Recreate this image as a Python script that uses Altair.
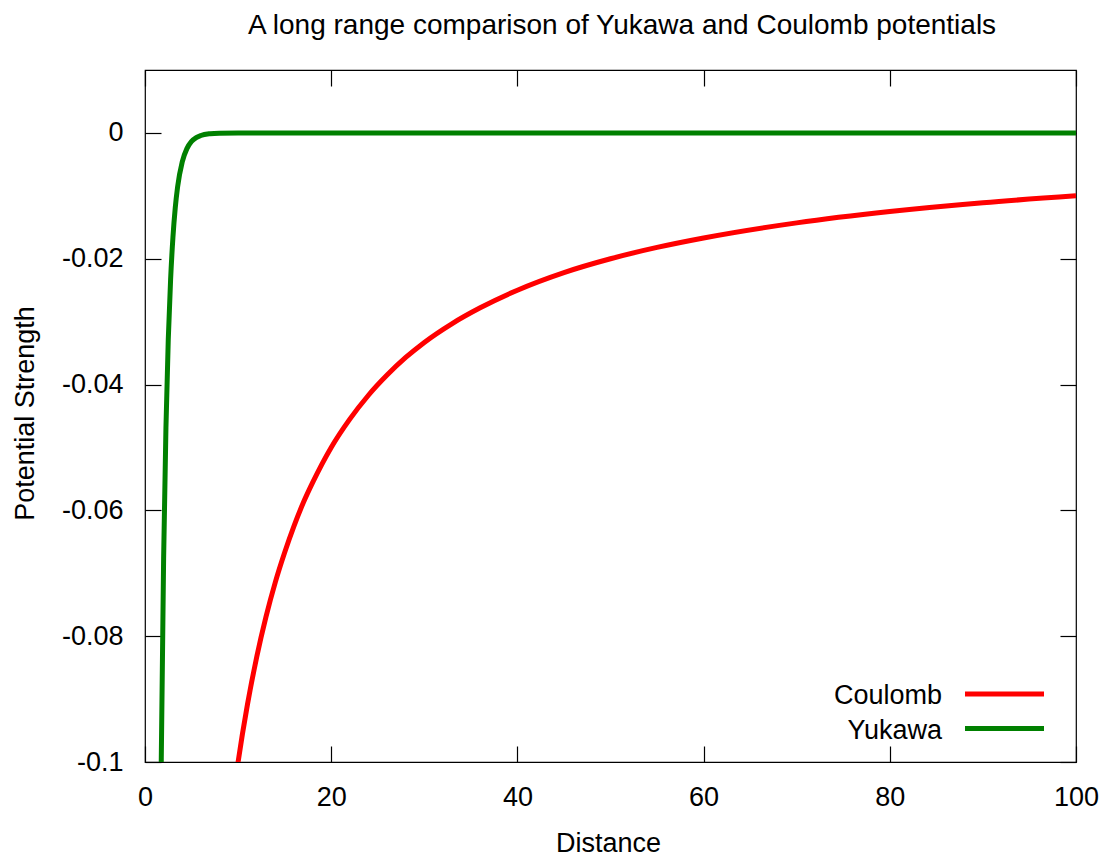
import altair as alt
import pandas as pd

# ---- data ----
coulomb_x = [9.5, 10, 11, 12, 13, 14, 15, 16, 17, 18, 20, 22, 24, 26, 28, 30,
             33, 36, 40, 45, 50, 55, 60, 70, 80, 90, 100]
coulomb_y = [-0.1053, -0.1, -0.0909, -0.0833, -0.0769, -0.0714, -0.0667, -0.0625,
             -0.0588, -0.0556, -0.05, -0.0455, -0.0417, -0.0385, -0.0357, -0.0333,
             -0.0303, -0.0278, -0.025, -0.0222, -0.02, -0.0182, -0.0167, -0.0143,
             -0.0125, -0.0111, -0.01]

yukawa_x = [1.5, 1.75, 2.0, 2.25, 2.5, 2.75, 3.0, 3.25, 3.5, 4.0, 4.5, 5.0, 5.5,
            6.0, 7.0, 8.0, 10, 15, 20, 40, 60, 80, 100]
yukawa_y = [-0.1488, -0.0993, -0.0677, -0.0468, -0.0328, -0.0233, -0.0166, -0.0119,
            -0.0086, -0.0046, -0.0025, -0.00135, -0.00074, -0.00041, -0.00013,
            -0.00004, -0.000005, 0, 0, 0, 0, 0, 0]

series_names = ["Coulomb", "Yukawa"]
series_colors = ["#ff0000", "#008000"]
x_ticks = [0, 20, 40, 60, 80, 100]
y_ticks = [0, -0.02, -0.04, -0.06, -0.08, -0.1]
title_text = "A long range comparison of Yukawa and Coulomb potentials"
x_title = "Distance"
y_title = "Potential Strength"

FONT = "Liberation Sans"
FS = 27
TITLE_FS = 28
W, H = 931, 692
LW = 5

df = pd.concat([
    pd.DataFrame({"dist": coulomb_x, "pot": coulomb_y, "series": series_names[0]}),
    pd.DataFrame({"dist": yukawa_x, "pot": yukawa_y, "series": series_names[1]}),
], ignore_index=True)

xs = alt.Scale(domain=[0, 100], nice=False, zero=False)
ys = alt.Scale(domain=[-0.1, 0.01], nice=False, zero=False)
cs = alt.Scale(domain=series_names, range=series_colors)

common_axis = dict(grid=False, domain=False, tickSize=16, offset=-16,
                   tickColor="black", tickWidth=1.2, labelFlush=False,
                   labelOverlap=False,
                   labelFont=FONT, labelFontSize=FS, labelColor="black",
                   titleFont=FONT, titleFontSize=FS, titleColor="black",
                   titleFontWeight="normal")

bottom_axis = alt.Axis(orient="bottom", values=x_ticks, labelPadding=22,
                       title=x_title, titleBaseline="alphabetic",
                       titleX=463, titleY=105, **common_axis)
left_axis = alt.Axis(orient="left", values=y_ticks, labelPadding=22,
                     labelExpr="toString(datum.value)",
                     title=y_title, titleAngle=270, titleBaseline="alphabetic",
                     titleX=-128, titleY=343, **common_axis)
top_axis = alt.Axis(orient="top", values=x_ticks, labels=False, title="",
                    **common_axis)
right_axis = alt.Axis(orient="right", values=y_ticks, labels=False, title="",
                      **common_axis)

lines = alt.Chart(df).mark_line(clip=True, strokeWidth=LW, interpolate="monotone").encode(
    x=alt.X("dist:Q", scale=xs, axis=bottom_axis),
    y=alt.Y("pot:Q", scale=ys, axis=left_axis),
    color=alt.Color("series:N", scale=cs, legend=None),
)

frame = alt.Chart(df).mark_line(clip=True, opacity=0).encode(
    x=alt.X("dist:Q", scale=xs, axis=top_axis),
    y=alt.Y("pot:Q", scale=ys, axis=right_axis),
    detail="series:N",
)

title_layer = alt.Chart(pd.DataFrame({"t": [title_text]})).mark_text(
    align="center", baseline="alphabetic", font=FONT, fontSize=TITLE_FS, color="black"
).encode(text="t:N", x=alt.value(477), y=alt.value(-36))

legend_layers = []
for i, (name, col) in enumerate(zip(series_names, series_colors)):
    ldf = pd.DataFrame({"series": [name]})
    legend_layers.append(
        alt.Chart(ldf).mark_text(align="right", baseline="alphabetic", font=FONT,
                                 fontSize=FS, color="black").encode(
            text="series:N", x=alt.value(797), y=alt.value(634 + 34.5 * i))
    )
    legend_layers.append(
        alt.Chart(ldf).mark_rule(color=col, strokeWidth=LW).encode(
            x=alt.value(820), x2=alt.value(899), y=alt.value(624 + 34.5 * i))
    )

chart = alt.layer(lines, frame, title_layer, *legend_layers).resolve_axis(
    x="independent", y="independent"
).properties(
    width=W, height=H,
    padding={"left": 137, "top": 62, "right": 23, "bottom": 94},
    autosize=alt.AutoSizeParams(type="none"),
).configure_view(stroke="black", strokeWidth=1.2)

chart.save("out.html", embed_options={"renderer": "svg", "actions": False})
